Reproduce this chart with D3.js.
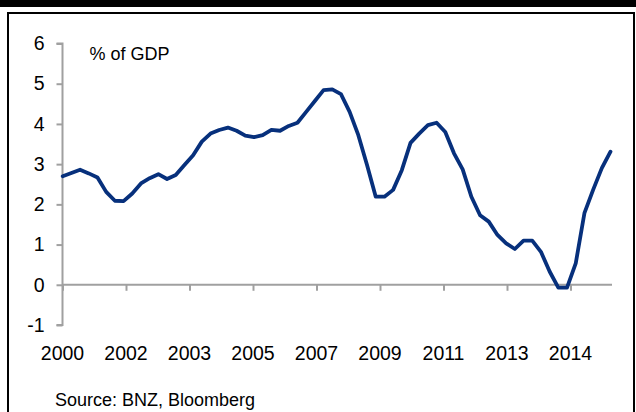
<!DOCTYPE html>
<html>
<head>
<meta charset="utf-8">
<script src="https://cdn.jsdelivr.net/npm/d3@7"></script>
<style>
  html, body { margin: 0; padding: 0; background: #fff; }
  svg { display: block; }
  text { font-family: "Liberation Sans", Arial, sans-serif; fill: #000; }
</style>
</head>
<body>
<script>
// ---- data (quarterly) ----
const values = [
  2.70, 2.78, 2.86, 2.77, 2.67, 2.31, 2.09, 2.08, 2.27, 2.52,
  2.65, 2.75, 2.63, 2.73, 2.98, 3.22, 3.56, 3.76, 3.85, 3.91,
  3.83, 3.71, 3.67, 3.72, 3.85, 3.83, 3.95, 4.03, 4.30, 4.57,
  4.84, 4.86, 4.74, 4.30, 3.72, 2.98, 2.19, 2.19, 2.36, 2.85,
  3.53, 3.76, 3.97, 4.03, 3.80, 3.27, 2.87, 2.19, 1.73, 1.57,
  1.24, 1.03, 0.89, 1.10, 1.10, 0.82, 0.33, -0.07, -0.07, 0.53,
  1.78, 2.36, 2.90, 3.31
];
const xLabels = ["2000", "2002", "2003", "2005", "2007", "2009", "2011", "2013", "2014"];
const yTicks = [-1, 0, 1, 2, 3, 4, 5, 6];
const unitLabel = "% of GDP";
const sourceLabel = "Source: BNZ, Bloomberg";

const W = 636, H = 412;
const svg = d3.select("body").append("svg").attr("width", W).attr("height", H);

// frame
svg.append("rect").attr("x", 0).attr("y", 0).attr("width", W).attr("height", 7).attr("fill", "#000");
svg.append("rect").attr("x", 8).attr("y", 13).attr("width", 626).attr("height", 430)
  .attr("fill", "none").attr("stroke", "#000").attr("stroke-width", 2);

// scales
const x = d3.scaleLinear().domain([0, values.length - 1]).range([62.7, 610.5]);
const xTick = d3.scalePoint().domain(xLabels).range([62.5, 570.5]);
const y = d3.scaleLinear().domain([-1, 6]).range([325, 43.5]);

const axisColor = "#a0a0a0";

// y axis
const yAxis = svg.append("g").attr("transform", "translate(62.5,0)")
  .call(d3.axisLeft(y).tickValues(yTicks).tickSize(6).tickPadding(12).tickFormat(d3.format("d")));
yAxis.select(".domain").attr("stroke", axisColor).attr("stroke-width", 2)
  .attr("d", `M-6,${y(6)}H0V${y(-1)}H-6`);
yAxis.selectAll(".tick line").attr("stroke", axisColor).attr("stroke-width", 2);
yAxis.selectAll(".tick text").attr("font-size", "19.5px")
  .attr("font-family", "Liberation Sans, Arial, sans-serif").attr("fill", "#000")
  .text(d => d < 0 ? "-" + Math.abs(d) : d);

// x axis at zero
const xAxis = svg.append("g").attr("transform", `translate(0,${y(0)})`)
  .call(d3.axisBottom(xTick).tickSize(6).tickSizeOuter(0).tickFormat(() => ""));
xAxis.select(".domain").attr("stroke", axisColor).attr("stroke-width", 2)
  .attr("d", `M62.5,0H612`);
xAxis.selectAll(".tick line").attr("stroke", axisColor).attr("stroke-width", 2);

// x labels below the plot
svg.append("g").selectAll("text").data(xLabels).join("text")
  .attr("x", d => xTick(d)).attr("y", 359.5)
  .attr("text-anchor", "middle").attr("font-size", "19.5px")
  .text(d => d);

// line
const line = d3.line().x((d, i) => x(i)).y(d => y(d));
svg.append("path").datum(values).attr("d", line)
  .attr("fill", "none").attr("stroke", "#07307c").attr("stroke-width", 3.8)
  .attr("stroke-linejoin", "round").attr("stroke-linecap", "round");

// texts
svg.append("text").attr("x", 89.5).attr("y", 60).attr("font-size", "18px").text(unitLabel);
svg.append("text").attr("x", 55).attr("y", 406).attr("font-size", "18px").text(sourceLabel);
</script>
</body>
</html>
